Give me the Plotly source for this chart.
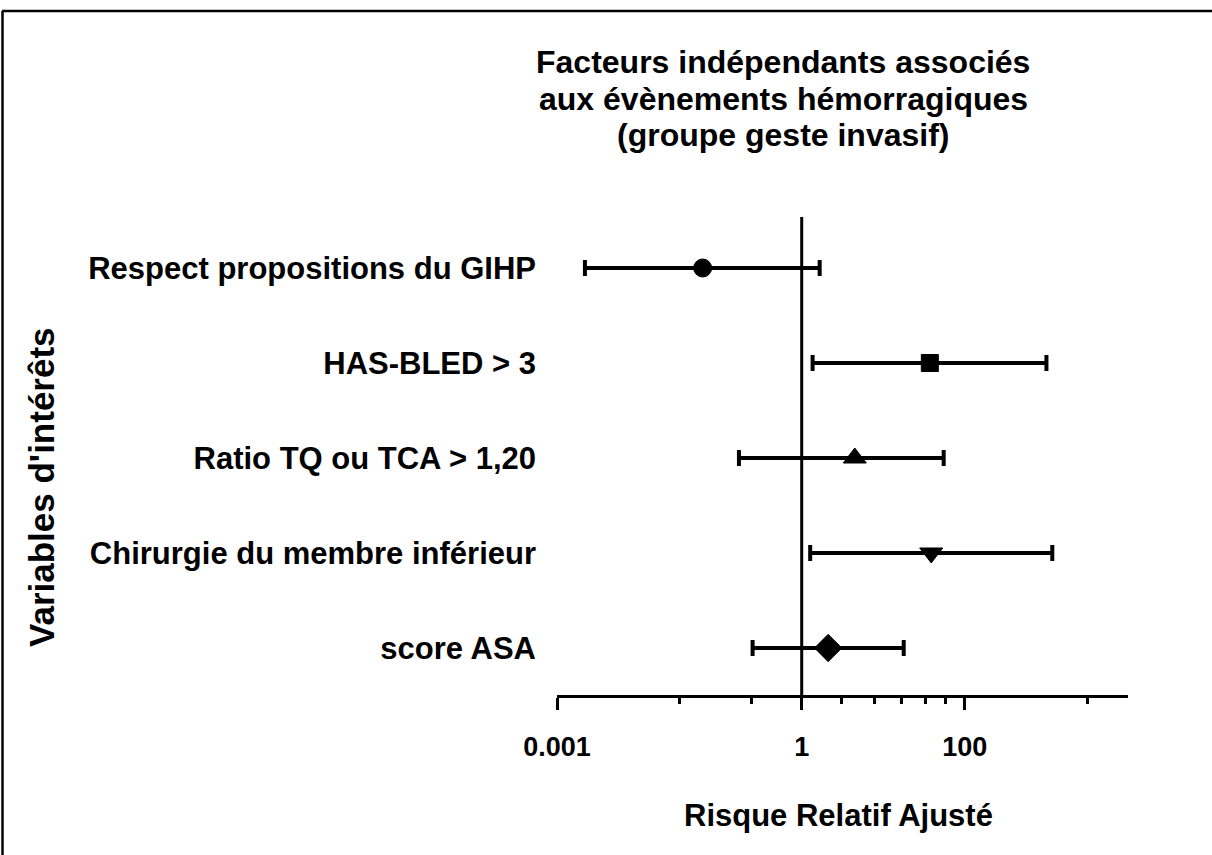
import plotly.graph_objects as go

# Forest plot: adjusted relative risk with confidence interval per variable
variables = [
    "Respect propositions du GIHP",
    "HAS-BLED > 3",
    "Ratio TQ ou TCA > 1,20",
    "Chirurgie du membre inférieur",
    "score ASA",
]
rr = [0.061, 37.2, 4.47, 38.7, 2.11]
ci_low = [0.0022, 1.36, 0.17, 1.27, 0.25]
ci_high = [1.66, 1000.0, 55.0, 1180.0, 17.8]
symbols = ["circle", "square", "triangle-up", "triangle-down", "diamond"]
sizes = [18, 17, 20, 20, 21]

title_lines = [
    "Facteurs indépendants associés",
    "aux évènements hémorragiques",
    "(groupe geste invasif)",
]
x_tick_vals = [0.001, 1, 100]
x_tick_text = ["0.001", "1", "100"]
x_minor_vals = [0.0318, 0.244, 3.1, 7.9, 16.9, 33, 58.5, 3230]

W, H = 1212, 855
L, R, T, B = 557, 84, 217, 160
PW, PH = W - L - R, H - T - B


def px(x):
    return (x - L) / PW


def py(y):
    return (H - B - y) / PH


FONT = "Liberation Sans, Arial, sans-serif"
ypos = list(range(len(variables), 0, -1))

fig = go.Figure()
fig.add_trace(
    go.Scatter(
        x=rr,
        y=ypos,
        mode="markers",
        marker=dict(symbol=symbols, size=sizes, color="black", opacity=1,
                    line=dict(width=1, color="black")),
        error_x=dict(
            type="data",
            symmetric=False,
            array=[h - v for h, v in zip(ci_high, rr)],
            arrayminus=[v - l for v, l in zip(rr, ci_low)],
            color="black",
            thickness=4,
            width=8,
        ),
        showlegend=False,
        hoverinfo="skip",
    )
)

# reference line at RR = 1
fig.add_shape(
    type="line", xref="x", yref="paper", x0=1, x1=1, y0=0, y1=1,
    line=dict(color="black", width=3), layer="below",
)

# outer frame (top and left edges)
fig.add_shape(type="line", xref="paper", yref="paper",
              x0=px(2), x1=px(1212), y0=py(11), y1=py(11),
              line=dict(color="black", width=2.5))
fig.add_shape(type="line", xref="paper", yref="paper",
              x0=px(2.5), x1=px(2.5), y0=py(11), y1=py(856),
              line=dict(color="black", width=2.5))

# chart title, one annotation per line
for line, yc in zip(title_lines, [62, 99, 135]):
    fig.add_annotation(
        text=f"<b>{line}</b>",
        xref="paper", yref="paper", x=px(783), y=py(yc), xanchor="center", yanchor="middle",
        showarrow=False, font=dict(family=FONT, size=32, color="black"),
    )
fig.add_annotation(
    text="<b>Risque Relatif Ajusté</b>",
    xref="paper", yref="paper", x=px(838), y=py(815), xanchor="center", yanchor="middle",
    showarrow=False, font=dict(family=FONT, size=31, color="black"),
)
fig.add_annotation(
    text="<b>Variables d'intérêts</b>",
    xref="paper", yref="paper", x=px(41), y=py(487), xanchor="center", yanchor="middle",
    textangle=-90, showarrow=False, font=dict(family=FONT, size=35, color="black"),
)

fig.update_xaxes(
    type="log",
    range=[-3, 4],
    tickvals=x_tick_vals,
    ticktext=[f"<b>{t}</b>" for t in x_tick_text],
    tickfont=dict(family=FONT, size=27, color="black"),
    ticks="outside",
    ticklen=12,
    tickwidth=3,
    tickcolor="black",
    ticklabelstandoff=14,
    showline=True,
    linewidth=3,
    linecolor="black",
    showgrid=False,
    zeroline=False,
    minor=dict(tickvals=x_minor_vals, ticks="outside", ticklen=6, tickwidth=3,
               tickcolor="black", showgrid=False),
)
fig.update_yaxes(
    range=[0.505, 5.537],
    tickvals=ypos,
    ticktext=[f"<b>{v}</b>" for v in variables],
    tickfont=dict(family=FONT, size=31, color="black"),
    ticks="",
    ticklabelstandoff=20,
    showline=False,
    showgrid=False,
    zeroline=False,
)

fig.update_layout(
    width=W,
    height=H,
    margin=dict(l=L, r=R, t=T, b=B, autoexpand=False),
    paper_bgcolor="white",
    plot_bgcolor="white",
    font=dict(family=FONT, color="black"),
)

fig.write_html("out.html")
